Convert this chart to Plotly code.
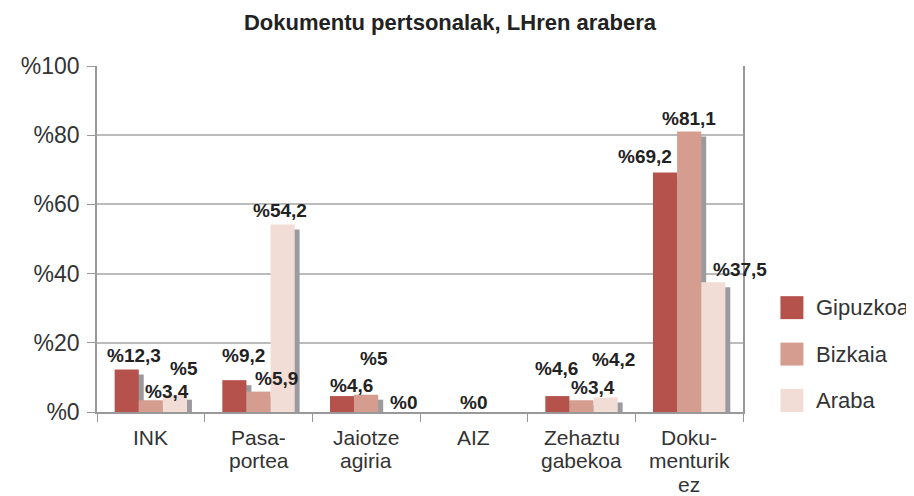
import plotly.graph_objects as go

# ---- data ----
categories = ["INK", "Pasa-\nportea", "Jaiotze\nagiria", "AIZ", "Zehaztu\ngabekoa", "Doku-\nmenturik\nez"]
series_names = ["Gipuzkoa", "Bizkaia", "Araba"]
gipuzkoa = [12.3, 9.2, 4.6, 0, 4.6, 69.2]
bizkaia = [3.4, 5.9, 5, 0, 3.4, 81.1]
araba = [5, 54.2, 0, 0, 4.2, 37.5]
y_tick_values = [0, 20, 40, 60, 80, 100]
y_tick_labels = ["%0", "%20", "%40", "%60", "%80", "%100"]
title_text = "Dokumentu pertsonalak, LHren arabera"

# ---- style ----
colors = ["#B5524C", "#D49D90", "#F2DDD6"]
shadow_color = "#9B9B9F"
FONT = "Liberation Sans"
PAGE_OFF = 8  # browser body margin
W, H = 914 - PAGE_OFF, 496 - PAGE_OFF
ML = 96.5 - PAGE_OFF
MT = 65.5 - PAGE_OFF
MB = 496 - 412
MR = 914 - 743.5
bar_w = 0.224
shadow_dx = 0.046
shadow_dy = 1.44

# label placement tweaks (pixel shifts: dx right, dy up); None = hidden
label_shifts = [
    [(7.6, 14), (9.1, 24.6), (9.3, 10.1), None, (-0.6, 27.1), (-20.1, 16.2)],
    [(16.2, 8.5), (17.9, 12.6), (8.1, 36.7), (-0.7, 9.5), (11.5, 12.7), (-0.3, 13)],
    [(9.5, 26.7), (-2.3, 13.7), (12.9, 9.5), None, (8.3, 38.4), (26.5, 12.6)],
]

series_values = [gipuzkoa, bizkaia, araba]
xs = list(range(len(categories)))

fig = go.Figure()
annotations = []
for k, (name, vals) in enumerate(zip(series_names, series_values)):
    off = -1.5 * bar_w + k * bar_w
    fig.add_trace(go.Bar(
        x=xs, y=vals, base=[-shadow_dy] * len(vals),
        offset=off + shadow_dx, width=bar_w,
        marker=dict(color=shadow_color, line=dict(width=0)),
        showlegend=False, hoverinfo="skip"))
    fig.add_trace(go.Bar(
        x=xs, y=vals, name=name,
        offset=off, width=bar_w,
        marker=dict(color=colors[k], line=dict(width=0)),
        showlegend=False))
    for i, v in enumerate(vals):
        sh = label_shifts[k][i]
        if sh is None:
            continue
        txt = "%" + f"{v:g}".replace(".", ",")
        annotations.append(dict(
            x=i + off + bar_w / 2, y=v, xref="x", yref="y",
            text=txt, showarrow=False, xanchor="center", yanchor="middle",
            xshift=sh[0], yshift=sh[1],
            font=dict(family=FONT, size=19, color="#222222", weight="bold")))

# category labels (multi-line, tight spacing)
for i, cat in enumerate(categories):
    for j, line in enumerate(cat.split("\n")):
        annotations.append(dict(
            x=i, y=0, xref="x", yref="paper", text=line, showarrow=False,
            xanchor="center", yanchor="middle", yshift=-25 - 23.5 * j,
            font=dict(family=FONT, size=21, color="#333333")))

# custom legend (positions in reference pixels)
plot_w = W - ML - MR
plot_h = H - MT - MB
shapes = []
leg_x0 = (781 - PAGE_OFF - ML) / plot_w
leg_x1 = (804 - PAGE_OFF - ML) / plot_w
for k, name in enumerate(series_names):
    cy_px = 307.5 + 46.5 * k - PAGE_OFF
    y_top = (H - MB - (cy_px - 11.5)) / plot_h
    y_bot = (H - MB - (cy_px + 11.5)) / plot_h
    shapes.append(dict(type="rect", xref="paper", yref="paper",
                       x0=leg_x0, x1=leg_x1, y0=y_bot, y1=y_top,
                       line=dict(width=0), fillcolor=colors[k]))
    annotations.append(dict(
        x=(815 - PAGE_OFF - ML) / plot_w, y=(H - MB - cy_px) / plot_h,
        xref="paper", yref="paper",
        text=name, showarrow=False, xanchor="left", yanchor="middle",
        font=dict(family=FONT, size=22, color="#333333")))

fig.update_layout(
    width=W, height=H, autosize=False,
    margin=dict(l=ML, r=MR, t=MT, b=MB),
    paper_bgcolor="white", plot_bgcolor="white",
    barmode="overlay",
    title=dict(text="<b>" + title_text + "</b>", x=(450 - PAGE_OFF) / W, xref="container",
               xanchor="center", y=1 - 14 / H, yref="container", yanchor="middle",
               pad=dict(t=0, b=0, l=0, r=0),
               font=dict(family=FONT, size=22, color="#222222")),
    xaxis=dict(range=[-0.5, len(categories) - 0.5],
               tickvals=[i - 0.5 for i in range(len(categories) + 1)],
               showticklabels=False, ticks="outside", ticklen=8, tickcolor="#999999",
               showline=True, linecolor="#999999", linewidth=1.5,
               showgrid=False, zeroline=False, fixedrange=True),
    yaxis=dict(range=[0, 100], tickvals=y_tick_values, ticktext=y_tick_labels,
               ticks="outside", ticklen=8, tickcolor="#999999",
               showline=True, linecolor="#999999", linewidth=1.5, mirror=True,
               showgrid=True, gridcolor="#BBBBBB", gridwidth=1.5, zeroline=False,
               ticklabelstandoff=3,
               tickfont=dict(family=FONT, size=23, color="#333333"), fixedrange=True),
    shapes=shapes, annotations=annotations,
)

fig.write_html("out.html")
